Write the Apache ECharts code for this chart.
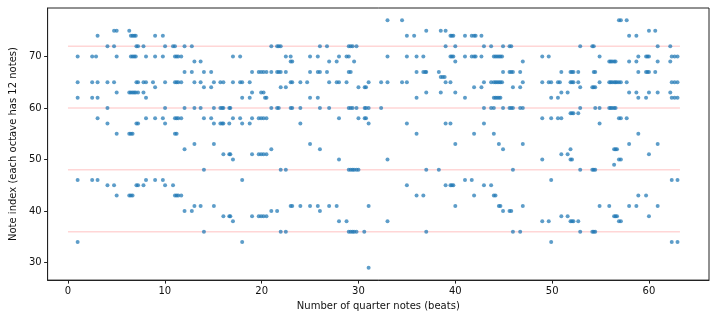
<!DOCTYPE html>
<html><head><meta charset="utf-8">
<script src="https://cdn.jsdelivr.net/npm/echarts@6/dist/echarts.min.js"></script>
<style>html,body{margin:0;padding:0;background:#fff}#c{width:719px;height:316px}</style>
</head><body><div id="c"></div>
<script>
const beats = [1.0,2.5,2.9,3.06,4.08,4.76,5.03,6.33,6.5,6.67,6.84,7.0,7.07,7.24,7.8,8.06,8.78,9.0,9.8,10.03,
10.85,11.05,11.22,11.39,11.7,12.04,12.79,13.06,13.7,14.04,14.79,15.07,15.74,15.92,16.05,16.66,16.77,17.04,17.78,17.99,
18.77,19.01,19.7,19.95,20.2,20.35,20.5,21.0,21.6,21.77,21.97,22.5,23.0,23.16,24.0,24.7,25.0,25.8,26.02,26.75,
26.97,27.75,27.99,28.77,29.0,29.2,29.4,29.55,29.8,30.0,30.6,30.64,30.78,31.05,32.34,33.0,34.5,35.0,35.75,36.0,
36.7,36.9,37.0,38.3,38.5,38.7,38.9,39.0,39.5,39.65,39.8,40.0,41.0,41.7,41.94,42.1,42.7,42.96,43.7,43.98,
44.15,44.32,44.5,44.66,44.83,44.93,45.6,45.78,45.95,46.7,46.97,48.98,49.65,49.9,50.6,50.8,50.95,51.6,51.9,52.05,
52.2,52.7,52.9,54.15,54.3,54.45,54.9,55.9,56.05,56.2,56.4,56.55,56.7,56.9,57.1,57.7,57.95,58.7,58.9,59.7,
59.85,60.0,60.65,60.9,62.2,62.35,62.65,62.95];
const chords = [
[70,65,62,46,34],[70,65,62,46],[70],[74,65,62,58,46],[72,65,60,57,45],[75,72,65,45],[75,70,63,55,43],[75,63,55,43],[74,70,63,55,43],[74,70,63,55,43],
[74,70,63],[74,70,63],[72,65,57,45],[72,65,63,57,45],[72,65,63,45],[70,65,62,58,46],[65],[74,70,64,58,46],[74,70,58,46],[72,65,60,57,45],
[72,45],[72,70,65,58,55,43],[70,65,58,55,43],[70,65,58,43],[70,65,58,43],[72,67,60,52,40],[72,67,40],[69,65,60,53,41],[69,65,60,41],[67,64,58,48,36],
[67,64,58],[65,60,57,53,41],[65,60,57],[60,57],[65,60,57,51,39],[60,57,51,39],[60,51,39],[70,65,58,50,38],[70,65,58],[65,62,57,46,34],
[65,62,57],[67,63,58,51,39],[67,58,51,39],[67,63,58,51,39],[67,63,58,51,39],[62],[67,62,58,51,39],[72,67,60,52,40],[72,67,60,40],[72,67,60],
[72,67,64,48,36],[70,67,64,48,36],[70,69,65,60,41],[69,65,60,41],[65,60,57,41],[65],[70,67,62,53,41],[70,67,62,41],[72,67,60,52,40],[72,67],
[69,65,60,41],[69,65,41],[70,65,58,50,38],[70,65,38],[72,70,67,60,48,36],[72,67,60,48,36],[72,60,48,36],[69,48,36],[72,60,48,36],[64,58,48],
[36],[64,60,58],[64,60,58],[65,60,57,41,29],[65,60],[77,70,65,50,38],[77,65],[74,70,65,57,45],[74],[70,67,62,55,43],
[70,67,43],[67],[75,67,63,48,36],[67,48],[75,66,63],[66],[66],[75,72,65,57,45],[74,70,65,57,45],[74,70,45],
[74,70,45],[72,69,63,53,41],[74,70,62,46],[74,70,46],[74,70,64,55,43],[74,70],[74,70,64],[72,65,60,57,45],[72,65,60,45],[70,65,62,60,55,43],
[70,65,62,43],[70,65,62],[70,65,62,53,41],[70,65,62,41],[70,65],[72,67,60,52,40],[72,67,60,40],[72,67,60,40],[67,64,60,48,36],[67,64,60,36],
[69,65,60,53,41],[70,65,58,50,38],[70,65,38],[65,62,58,46,34],[65,62,58],[65],[67,63,58,51,39],[63,51,39],[67,65,59,52,50,38],[67,65,59,50,38],
[67,65,59,38],[67,65,59,38],[72,64,60,48,36],[72,64,48,36],[72,67,64,48,36],[67,64,60,48,36],[70,65,60,57,41],[69,65,60,41],[69,65,60],[69,65,60],
[69,65,60,52,49,39],[69,65,60,52,39],[65,52,39],[77,65,58,50,38],[77,65,58,50,38],[77,65,58],[74,69,63,53,41],[74,69,63,41],[70,67,62,55,43],[70,67,62,43],
[70,67],[75,70,67,63,51,39],[75,67],[72,69,63,53,41],[72,69,63],[70,65,62,46,34],[70,65,62],[70,65,62,46,34]];
const octaveNotes = [36,48,60,72];
const octaveSpan = [0,63.2];
const xTicks = [0,10,20,30,40,50,60];
const yTicks = [30,40,50,60,70];

const points = [];
beats.forEach((b,i)=>chords[i].forEach(n=>points.push([b,n])));

const font = 'DejaVu Sans';
const lineSeries = octaveNotes.map(n=>({
  type:'line', data: octaveSpan.map(x=>[x,n]), symbol:'none', silent:true, z:1,
  lineStyle:{color:'#ffd6d6', width:1.5}
}));
const chart = echarts.init(document.getElementById('c'), null, {renderer:'canvas'});
chart.setOption({
  animation:false,
  grid:{left:40, right:10, top:8, bottom:35, show:true, borderColor:'#222', borderWidth:1},
  xAxis:{type:'value', min:-2.1, max:66.2,
    name:'Number of quarter notes (beats)', nameLocation:'middle', nameGap:19,
    nameTextStyle:{fontFamily:font, fontSize:10, color:'#111'},
    axisLine:{show:true, onZero:false, lineStyle:{color:'#222', width:1}},
    axisTick:{show:true, length:3.5, customValues:xTicks, lineStyle:{color:'#222'}},
    axisLabel:{customValues:xTicks, fontFamily:font, fontSize:10, color:'#111', margin:6},
    splitLine:{show:false}},
  yAxis:{type:'value', min:26.6, max:79.4,
    name:'Note index (each octave has 12 notes)', nameLocation:'middle', nameGap:25,
    nameTextStyle:{fontFamily:font, fontSize:10, color:'#111'},
    axisLine:{show:true, onZero:false, lineStyle:{color:'#222', width:1}},
    axisTick:{show:true, length:3.5, customValues:yTicks, lineStyle:{color:'#222'}},
    axisLabel:{customValues:yTicks, fontFamily:font, fontSize:10, color:'#111', margin:6},
    splitLine:{show:false}},
  series: lineSeries.concat([{
    type:'scatter', data:points, symbolSize:4, z:5,
    itemStyle:{color:'#1f77b4', opacity:0.72}
  }])
});
</script></body></html>
